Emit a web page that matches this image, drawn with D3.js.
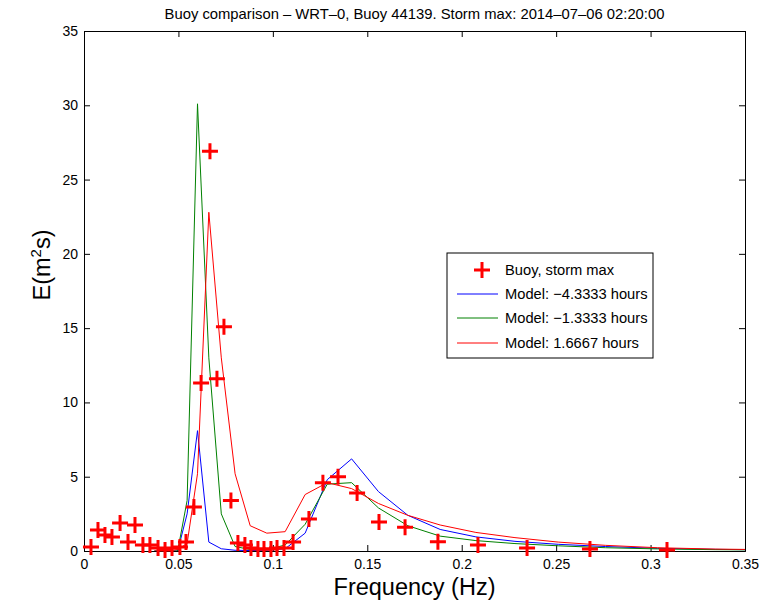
<!DOCTYPE html>
<html>
<head>
<meta charset="utf-8">
<script src="https://cdn.jsdelivr.net/npm/d3@7"></script>
<style>
  body { margin: 0; background: #fff; }
  text { font-family: "Liberation Sans", Arial, sans-serif; fill: #000; }
</style>
</head>
<body>
<div id="container"></div>
<script>
const w = 761
const h = 609
const margin = { top: 31, right: 16, bottom: 58, left: 84 }

// buoy spectrum at storm max
const buoyFreq = [0.0037, 0.0074, 0.0111, 0.0148, 0.0191, 0.0233, 0.0270, 0.0312, 0.0349, 0.0392,
  0.0429, 0.0466, 0.0508, 0.0540, 0.0582, 0.0620, 0.0667, 0.0704, 0.0741, 0.0778,
  0.0815, 0.0852, 0.0884, 0.0921, 0.0953, 0.0990, 0.1022, 0.1059, 0.1107, 0.1191,
  0.1265, 0.1345, 0.1446, 0.1562, 0.1700, 0.1874, 0.2086, 0.2346, 0.2679, 0.3087]
const buoyE = [0.27, 1.41, 1.08, 0.94, 1.88, 0.61, 1.75, 0.40, 0.40, 0.20,
  0.07, 0.20, 0.27, 0.61, 2.96, 11.3, 26.9, 11.6, 15.1, 3.4,
  0.54, 0.40, 0.20, 0.13, 0.13, 0.13, 0.20, 0.20, 0.60, 2.15,
  4.6, 5.0, 3.9, 1.95, 1.6, 0.62, 0.40, 0.20, 0.13, 0.07]

// model frequency grid
const modelFreq = [0.0373, 0.0410, 0.0451, 0.0496, 0.0546, 0.0601, 0.0661, 0.0727, 0.0800, 0.0880,
  0.0968, 0.1065, 0.1171, 0.1288, 0.1417, 0.1559, 0.1715, 0.1886, 0.2075, 0.2282,
  0.2511, 0.2762, 0.3038, 0.3342, 0.3676]
const modelA = [0, 0, 0, 0, 2.5, 8.1, 0.6, 0.15, 0.05, 0.03,
  0.05, 0.15, 1.2, 4.8, 6.2, 4.0, 2.4, 1.45, 0.95, 0.65,
  0.45, 0.30, 0.18, 0.11, 0.07]
const modelB = [0, 0, 0, 0, 3.4, 30.1, 13.0, 2.5, 0.3, 0.1,
  0.1, 0.4, 1.8, 4.5, 4.6, 2.9, 1.7, 1.0, 0.7, 0.5,
  0.35, 0.22, 0.14, 0.09, 0.06]
const modelC = [0, 0, 0.02, 0.1, 0.5, 5.2, 22.8, 13.0, 5.2, 1.7,
  1.2, 1.3, 3.8, 4.6, 4.2, 3.2, 2.4, 1.75, 1.25, 0.9,
  0.6, 0.38, 0.22, 0.13, 0.08]

const seriesNames = ['Model: \u22124.3333 hours', 'Model: \u22121.3333 hours', 'Model: 1.6667 hours']
const seriesColors = ['#0000ff', '#008000', '#ff0000']
const xTicks = [0, 0.05, 0.1, 0.15, 0.2, 0.25, 0.3, 0.35]
const yTicks = [0, 5, 10, 15, 20, 25, 30, 35]

const iw = w - margin.left - margin.right
const ih = h - margin.top - margin.bottom

var svg = d3.select('div#container')
  .append('svg')
  .attr('width', w)
  .attr('height', h)

svg.append('rect').attr('width', w).attr('height', h).attr('fill', '#fff')

var x = d3.scaleLinear().domain([0, 0.35]).range([0, iw])
var y = d3.scaleLinear().domain([0, 35]).range([ih, 0])

var plot = svg.append('g')
  .attr('transform', 'translate(' + margin.left + ',' + margin.top + ')')

plot.append('clipPath').attr('id', 'clip')
  .append('rect').attr('width', iw).attr('height', ih)

// axes with inward ticks on all four sides
const fmt = d => d === 0 ? '0' : String(d)
plot.append('g')
  .attr('transform', 'translate(0,' + ih + ')')
  .call(d3.axisBottom(x).tickValues(xTicks).tickFormat(fmt).tickSize(-6).tickPadding(8))
plot.append('g')
  .call(d3.axisTop(x).tickValues(xTicks).tickFormat('').tickSize(-6))
plot.append('g')
  .call(d3.axisLeft(y).tickValues(yTicks).tickFormat(fmt).tickSize(-6).tickPadding(6))
plot.append('g')
  .attr('transform', 'translate(' + iw + ',0)')
  .call(d3.axisRight(y).tickValues(yTicks).tickFormat('').tickSize(-6))

plot.selectAll('.domain').attr('stroke', '#000')
plot.selectAll('.tick line').attr('stroke', '#000')
plot.selectAll('.tick text').style('font-size', '14px').attr('fill', '#000')

var lineGen = d3.line()
  .x(d => x(d[0]))
  .y(d => y(d[1]))

var models = [modelA, modelB, modelC]
var lines = plot.append('g').attr('clip-path', 'url(#clip)')
lines.selectAll('path')
  .data(models)
  .enter().append('path')
  .attr('fill', 'none')
  .attr('stroke', (d, i) => seriesColors[i])
  .attr('stroke-width', 1)
  .attr('d', d => lineGen(modelFreq.map((f, i) => [f, d[i]])))

// buoy markers
const plus = 'M-8,0H8M0,-8V8'
plot.append('g')
  .selectAll('path')
  .data(buoyFreq.map((f, i) => [f, buoyE[i]]))
  .enter().append('path')
  .attr('transform', d => 'translate(' + x(d[0]) + ',' + y(d[1]) + ')')
  .attr('d', plus)
  .attr('stroke', '#ff0000')
  .attr('stroke-width', 3)

// titles
svg.append('text')
  .attr('x', margin.left + iw / 2)
  .attr('y', 19)
  .style('text-anchor', 'middle')
  .style('font-size', '14.8px')
  .text('Buoy comparison \u2013 WRT\u20130, Buoy 44139. Storm max: 2014\u201307\u201306 02:20:00')

svg.append('text')
  .attr('x', margin.left + iw / 2)
  .attr('y', 595)
  .style('text-anchor', 'middle')
  .style('font-size', '23.5px')
  .text('Frequency (Hz)')

var yl = svg.append('text')
  .attr('transform', 'translate(50,' + 265 + ') rotate(-90)')
  .style('text-anchor', 'middle')
  .style('font-size', '23.5px')
yl.append('tspan').text('E(m')
yl.append('tspan').attr('dy', -9).style('font-size', '15px').text('2')
yl.append('tspan').attr('dy', 9).text('s)')

// legend
var legend = svg.append('g').attr('transform', 'translate(447,253)')
legend.append('rect')
  .attr('width', 206).attr('height', 105)
  .attr('fill', '#fff').attr('stroke', '#000').attr('stroke-width', 1)

const rowY = [17, 41, 65, 90]
legend.append('path')
  .attr('transform', 'translate(35,' + rowY[0] + ')')
  .attr('d', plus)
  .attr('stroke', '#ff0000')
  .attr('stroke-width', 3)
legend.append('text')
  .attr('x', 58).attr('y', rowY[0])
  .attr('dy', '0.35em')
  .style('font-size', '14.7px')
  .text('Buoy, storm max')

seriesNames.forEach(function (name, i) {
  legend.append('line')
    .attr('x1', 10).attr('x2', 51)
    .attr('y1', rowY[i + 1]).attr('y2', rowY[i + 1])
    .attr('stroke', seriesColors[i])
    .attr('stroke-width', 1)
  legend.append('text')
    .attr('x', 58).attr('y', rowY[i + 1])
    .attr('dy', '0.35em')
    .style('font-size', '14.7px')
    .text(name)
})
</script>
</body>
</html>
